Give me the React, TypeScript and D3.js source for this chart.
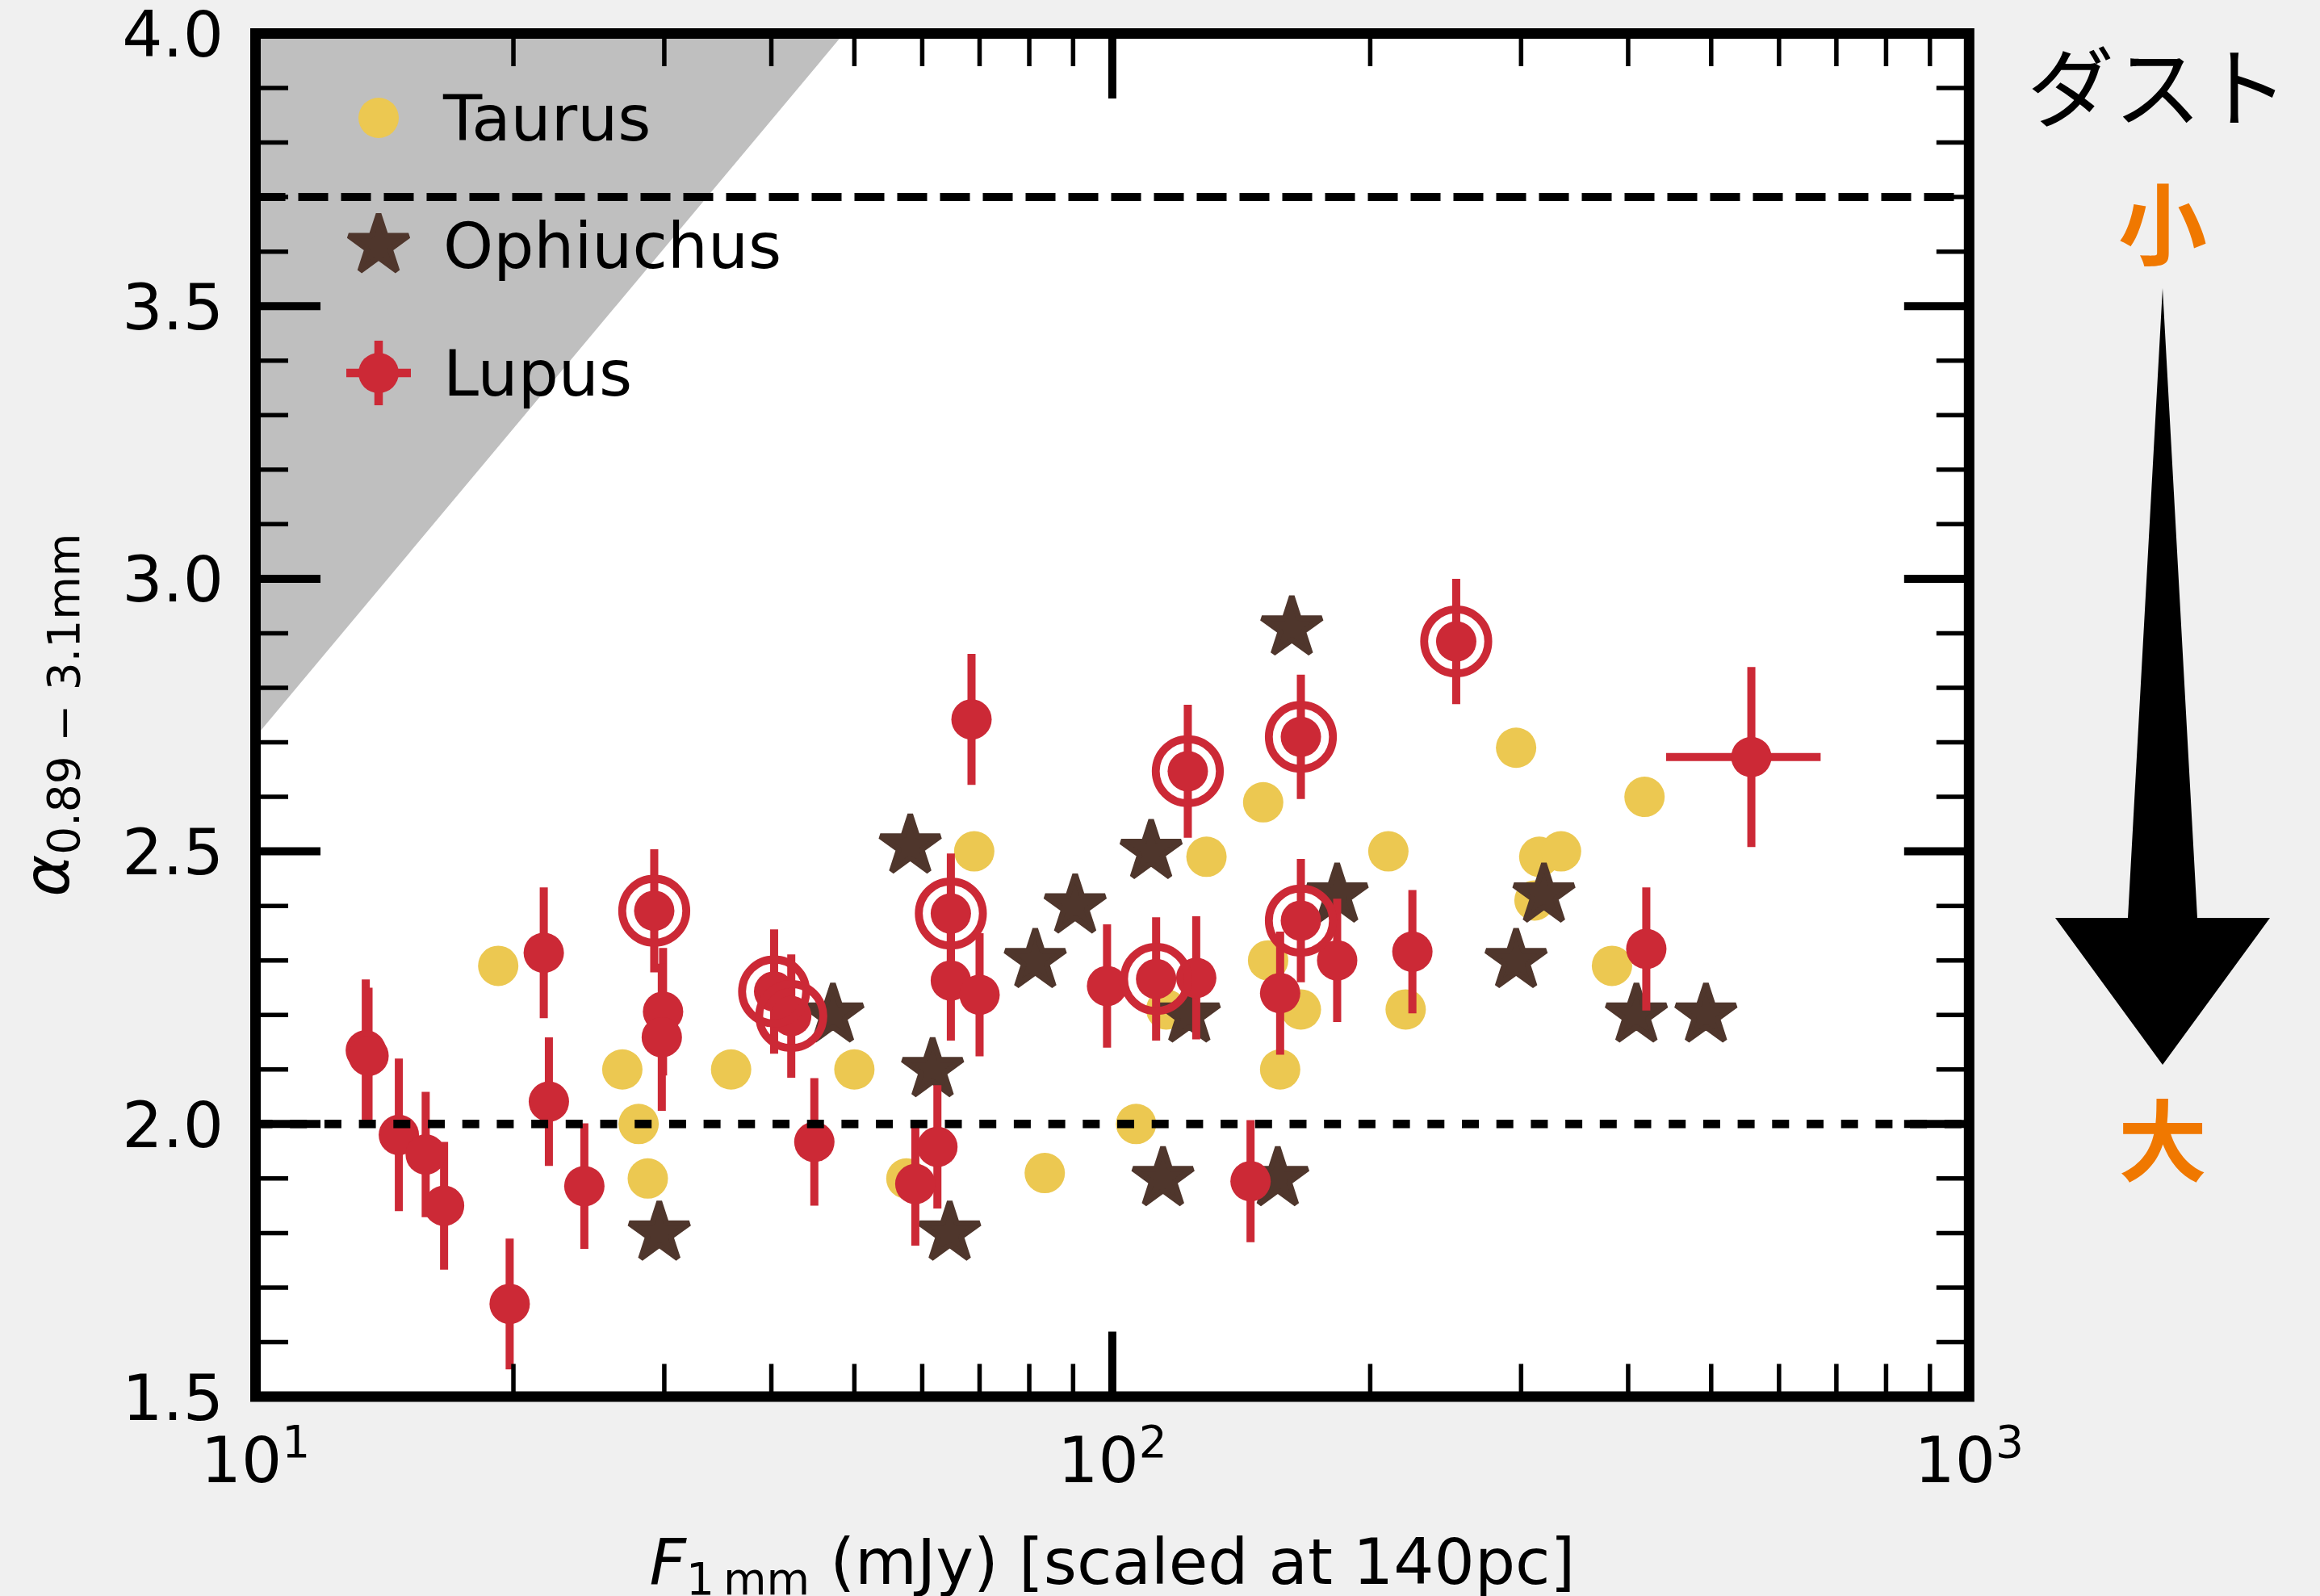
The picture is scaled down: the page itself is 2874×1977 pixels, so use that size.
import * as d3 from "d3";

// Taurus (yellow circles)
const taurusF = [19.2, 26.8, 28.0, 28.7, 35.9, 50.0, 57.5, 69.0, 83.4, 106.6, 115.6, 128.8, 150, 152, 157, 166, 210, 220, 296, 311, 315, 334, 383, 418];
const taurusAlpha = [2.29, 2.10, 2.0, 1.9, 2.10, 2.10, 1.90, 2.50, 1.91, 2.0, 2.21, 2.49, 2.59, 2.30, 2.10, 2.21, 2.50, 2.21, 2.69, 2.41, 2.49, 2.50, 2.29, 2.60];

// Ophiuchus (stars)
const ophF = [29.6, 47.2, 58.1, 61.7, 64.6, 81.3, 90.5, 111, 114.6, 123, 156, 162, 183, 296, 319, 409, 493];
const ophAlpha = [1.80, 2.20, 2.51, 2.10, 1.80, 2.30, 2.40, 2.50, 1.90, 2.20, 1.90, 2.91, 2.42, 2.30, 2.42, 2.20, 2.20];

// Lupus (red, with errors; ring = highlighted source)
const lupusF = [13.45, 13.55, 14.7, 15.8, 16.6, 19.8, 21.7, 22.0, 24.2, 29.2, 29.9, 29.8, 40.3, 42.2, 44.9, 58.9, 62.5, 64.8, 64.8, 68.5, 70.0, 98.6, 112.5, 125.3, 122.5, 145, 157, 166, 166, 183, 224, 252, 420, 557];
const lupusAlpha = [2.135, 2.125, 1.98, 1.944, 1.85, 1.67, 2.314, 2.041, 1.886, 2.391, 2.206, 2.159, 2.243, 2.198, 1.967, 1.89, 1.958, 2.386, 2.263, 2.742, 2.237, 2.253, 2.266, 2.268, 2.647, 1.895, 2.24, 2.71, 2.373, 2.30, 2.316, 2.885, 2.321, 2.673];
const lupusErr = [0.13, 0.125, 0.14, 0.115, 0.117, 0.12, 0.12, 0.118, 0.115, 0.113, 0.117, 0.135, 0.114, 0.113, 0.117, 0.113, 0.113, 0.11, 0.11, 0.12, 0.113, 0.113, 0.113, 0.113, 0.122, 0.112, 0.113, 0.114, 0.113, 0.113, 0.113, 0.115, 0.113, 0.165];
const lupusXErr = [0, 0, 0, 0, 0, 0, 0, 0, 0, 0, 0, 0, 0, 0, 0, 0, 0, 0, 0, 0, 0, 0, 0, 0, 0, 0, 0, 0, 0, 0, 0, 0, 0, 114];
const lupusRing = [0, 0, 0, 0, 0, 0, 0, 0, 0, 1, 0, 0, 1, 1, 0, 0, 0, 1, 0, 0, 0, 0, 1, 0, 1, 0, 0, 1, 1, 0, 0, 1, 0, 0];

// axes
const yTicks = [1.5, 2.0, 2.5, 3.0, 3.5, 4.0];
const yTickLabels = ["1.5", "2.0", "2.5", "3.0", "3.5", "4.0"];
const xTicks = [10, 100, 1000];
const xTickExp = ["1", "2", "3"];

// grey (excluded) region and reference levels
const shadeF = [10, 10, 48.6];
const shadeAlpha = [4.0, 2.71, 4.0];
const dashedLevel = 3.7;
const dottedLevel = 2.0;

const legendNames = ["Taurus", "Ophiuchus", "Lupus"];

const W = 2874;
const H = 1977;
const plot = { left: 316.5, right: 2439.3, top: 41.5, bottom: 1730 };

const YELLOW = "#ecc851";
const BROWN = "#4f362c";
const RED = "#cc2936";
const ORANGE = "#f07800";
const FONT = "DejaVu Sans";
const FS = 79;

const starPath = (r: number) => d3.symbol(d3.symbolStar, (r * r) / 0.8908130915292852)() as string;

export default function App() {
  const x = d3.scaleLog().domain([10, 1000]).range([plot.left, plot.right]);
  const y = d3.scaleLinear().domain([1.5, 4.0]).range([plot.bottom, plot.top]);

  const xMinor = x.ticks().filter((v) => !xTicks.includes(v));
  const yMinor = y.ticks(25).filter((v) => !yTicks.some((t) => Math.abs(t - v) < 1e-6));

  const shade = d3
    .line<number>()
    .x((i) => x(shadeF[i]))
    .y((i) => y(shadeAlpha[i]))(d3.range(shadeF.length)) + "Z";

  const star = starPath(39);

  const legendY = [146, 304, 462];
  const legendX = 469;

  // arrow on the right (figure annotation)
  const ax = 2679;
  const arrow = [
    [ax, 357],
    [ax + 43, 1137],
    [ax + 133, 1137],
    [ax, 1319],
    [ax - 133, 1137],
    [ax - 43, 1137],
  ];

  return (
    <svg
      width={W}
      height={H}
      style={{ position: "absolute", left: 0, top: 0, background: "#f0f0f0" }}
      fontFamily={FONT}
    >
      <rect x={0} y={0} width={W} height={H} fill="#f0f0f0" />
      <rect x={plot.left} y={plot.top} width={plot.right - plot.left} height={plot.bottom - plot.top} fill="#ffffff" />
      <path d={shade} fill="#bfbfbf" />

      {/* Taurus */}
      <g fill={YELLOW}>
        {taurusF.map((f, i) => (
          <circle key={i} cx={x(f)} cy={y(taurusAlpha[i])} r={25} />
        ))}
      </g>

      {/* Ophiuchus */}
      <g fill={BROWN} stroke={BROWN} strokeWidth={7} strokeLinejoin="bevel">
        {ophF.map((f, i) => (
          <path key={i} d={star} transform={`translate(${x(f)},${y(ophAlpha[i])})`} />
        ))}
      </g>

      {/* Lupus error bars */}
      <g stroke={RED} strokeWidth={10}>
        {lupusF.map((f, i) => (
          <g key={i}>
            <line x1={x(f)} x2={x(f)} y1={y(lupusAlpha[i] - lupusErr[i])} y2={y(lupusAlpha[i] + lupusErr[i])} />
            {lupusXErr[i] > 0 && (
              <line
                x1={x(f - lupusXErr[i])}
                x2={x(f + lupusXErr[i])}
                y1={y(lupusAlpha[i])}
                y2={y(lupusAlpha[i])}
              />
            )}
          </g>
        ))}
      </g>
      <g fill={RED}>
        {lupusF.map((f, i) => (
          <circle key={i} cx={x(f)} cy={y(lupusAlpha[i])} r={25} />
        ))}
      </g>
      <g fill="none" stroke={RED} strokeWidth={9.8}>
        {lupusF.map((f, i) =>
          lupusRing[i] ? <circle key={i} cx={x(f)} cy={y(lupusAlpha[i])} r={39.7} /> : null
        )}
      </g>

      {/* reference lines */}
      <line x1={plot.left} x2={plot.right} y1={y(dashedLevel)} y2={y(dashedLevel)} stroke="#000" strokeWidth={10} strokeDasharray="37 16" />
      <line x1={plot.left} x2={plot.right} y1={y(dottedLevel)} y2={y(dottedLevel)} stroke="#000" strokeWidth={10.5} strokeDasharray="21 21.7" />

      {/* legend */}
      <circle cx={legendX} cy={legendY[0]} r={25} fill={YELLOW} />
      <path d={star} transform={`translate(${legendX},${legendY[1]})`} fill={BROWN} stroke={BROWN} strokeWidth={7} strokeLinejoin="bevel" />
      <g stroke={RED} strokeWidth={10.5}>
        <line x1={legendX - 40} x2={legendX + 40} y1={legendY[2]} y2={legendY[2]} />
        <line x1={legendX} x2={legendX} y1={legendY[2] - 40} y2={legendY[2] + 40} />
      </g>
      <circle cx={legendX} cy={legendY[2]} r={25} fill={RED} />
      {legendNames.map((n, i) => (
        <text key={n} x={549} y={legendY[i] + 28} fontSize={FS} fill="#000">
          {n}
        </text>
      ))}

      {/* ticks */}
      <g stroke="#000">
        {yTicks.map((v) => (
          <g key={"ym" + v} strokeWidth={10}>
            <line x1={plot.left} x2={plot.left + 80.5} y1={y(v)} y2={y(v)} />
            <line x1={plot.right} x2={plot.right - 80.5} y1={y(v)} y2={y(v)} />
          </g>
        ))}
        {yMinor.map((v) => (
          <g key={"yn" + v} strokeWidth={5.5}>
            <line x1={plot.left} x2={plot.left + 40.5} y1={y(v)} y2={y(v)} />
            <line x1={plot.right} x2={plot.right - 40.5} y1={y(v)} y2={y(v)} />
          </g>
        ))}
        {xTicks.map((v) => (
          <g key={"xm" + v} strokeWidth={10}>
            <line x1={x(v)} x2={x(v)} y1={plot.bottom} y2={plot.bottom - 80.5} />
            <line x1={x(v)} x2={x(v)} y1={plot.top} y2={plot.top + 80.5} />
          </g>
        ))}
        {xMinor.map((v) => (
          <g key={"xn" + v} strokeWidth={5.5}>
            <line x1={x(v)} x2={x(v)} y1={plot.bottom} y2={plot.bottom - 40.5} />
            <line x1={x(v)} x2={x(v)} y1={plot.top} y2={plot.top + 40.5} />
          </g>
        ))}
      </g>

      {/* frame */}
      <rect x={plot.left} y={plot.top} width={plot.right - plot.left} height={plot.bottom - plot.top} fill="none" stroke="#000" strokeWidth={13} />

      {/* tick labels */}
      {yTicks.map((v, i) => (
        <text key={"yl" + v} x={277} y={y(v) + 28.5} fontSize={FS} textAnchor="end" fill="#000">
          {yTickLabels[i]}
        </text>
      ))}
      {xTicks.map((v, i) => (
        <text key={"xl" + v} x={x(v)} y={plot.bottom + 106} fontSize={FS} textAnchor="middle" fill="#000">
          10
          <tspan fontSize={55} dy={-31}>
            {xTickExp[i]}
          </tspan>
        </text>
      ))}

      {/* axis labels */}
      <text x={(plot.left + plot.right) / 2} y={1962} fontSize={FS} textAnchor="middle" fill="#000">
        <tspan fontStyle="italic">F</tspan>
        <tspan fontSize={55} dy={13}>1{"\u2009"}mm</tspan>
        <tspan dy={-13}> (mJy) [scaled at 140pc]</tspan>
      </text>
      <text transform={`translate(85,${(plot.top + plot.bottom) / 2}) rotate(-90)`} fontSize={FS} textAnchor="middle" fill="#000">
        <tspan fontStyle="italic">α</tspan>
        <tspan fontSize={55} dy={13}>0.89 − 3.1mm</tspan>
      </text>

      {/* dust size annotation */}
      <text x={2673} y={149} fontSize={108} textAnchor="middle" fontFamily="Noto Sans CJK JP" fill="#000">
        ダスト
      </text>
      <text x={ax} y={320} fontSize={110} textAnchor="middle" fontFamily="Noto Sans CJK JP" fontWeight={700} fill={ORANGE}>
        小
      </text>
      <path d={d3.line()(arrow as [number, number][]) + "Z"} fill="#000" />
      <text x={ax} y={1455} fontSize={110} textAnchor="middle" fontFamily="Noto Sans CJK JP" fontWeight={700} fill={ORANGE}>
        大
      </text>
    </svg>
  );
}
